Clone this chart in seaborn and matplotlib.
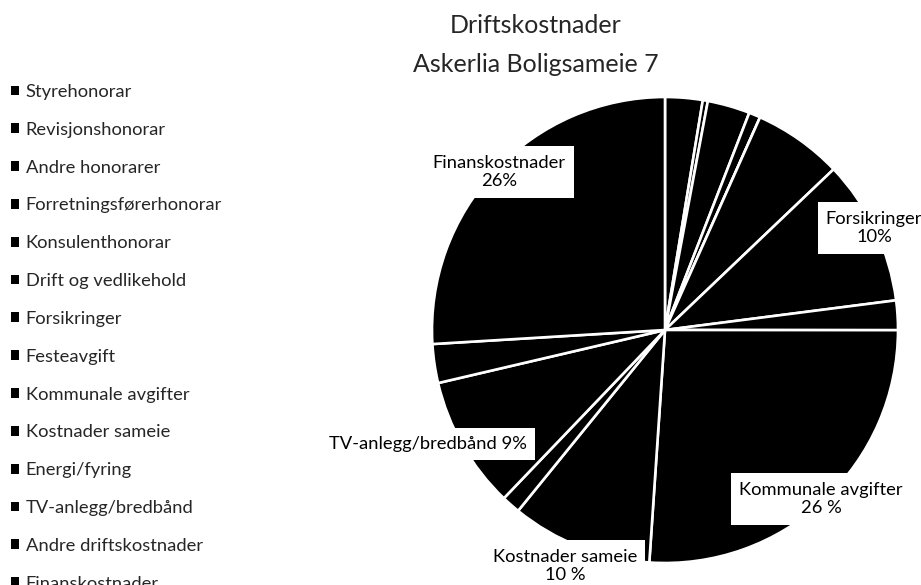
import matplotlib
matplotlib.use("Agg")
import matplotlib.pyplot as plt
import seaborn as sns
from matplotlib.patches import Patch

sns.set_theme(style="white")
plt.rcParams['font.family'] = ['Lato', 'DejaVu Sans']

# ---- data (percent shares) ----
categories = ["Styrehonorar", "Revisjonshonorar", "Andre honorarer",
              "Forretningsførerhonorar", "Konsulenthonorar", "Drift og vedlikehold",
              "Forsikringer", "Festeavgift", "Kommunale avgifter", "Kostnader sameie",
              "Energi/fyring", "TV-anlegg/bredbånd", "Andre driftskostnader",
              "Finanskostnader"]
values = [2.6, 0.35, 2.95, 0.8, 0.0, 6.2, 10.1, 2.05, 26.1, 9.8, 1.3, 9.2, 2.7, 26.0]

labelled = ["Finanskostnader", "Forsikringer", "Kommunale avgifter",
            "Kostnader sameie", "TV-anlegg/bredbånd"]
label_texts = ["Finanskostnader\n26%", "Forsikringer\n10%", "Kommunale avgifter\n26 %",
               "Kostnader sameie\n10 %", "TV-anlegg/bredbånd 9%"]
title_lines = ["Driftskostnader", "Askerlia Boligsameie 7"]

# ---- figure ----
W, H = 921, 585
fig = plt.figure(figsize=(W / 100, H / 100), dpi=100)
cx, cy, r = 665, 330, 233          # pie centre / radius in pixels
ax = fig.add_axes([(cx - r) / W, (H - cy - r) / H, 2 * r / W, 2 * r / H])

colors = ["black"] * len(values)
wedges, _ = ax.pie(values, colors=colors, startangle=90, counterclock=False,
                   wedgeprops=dict(edgecolor="white", linewidth=1.9))
for w in wedges:
    w.set_clip_on(False)
ax.set_xlim(-1, 1)
ax.set_ylim(-1, 1)
ax.set_aspect("equal")
ax.axis("off")

# data labels (positions in pixels of the figure)
label_pos = {"Finanskostnader": (499, 172), "Forsikringer": (874, 228),
             "Kommunale avgifter": (821, 499), "Kostnader sameie": (565, 566),
             "TV-anlegg/bredbånd": (428, 444)}
for cat, txt in zip(labelled, label_texts):
    px, py = label_pos[cat]
    x = (px - cx) / r
    y = (cy - py) / r
    ax.text(x, y, txt, ha="center", va="center", fontsize=13.2, color="black",
            linespacing=1.2,
            bbox=dict(boxstyle="square,pad=0.45", fc="white", ec="none"),
            clip_on=False, zorder=5)

# title
title_x = 536
fig.text(title_x / W, 1 - 33 / H, title_lines[0], ha="center", va="baseline", fontsize=18)
fig.text(title_x / W, 1 - 72 / H, title_lines[1], ha="center", va="baseline", fontsize=18)

# legend
handles = [Patch(facecolor="black", edgecolor="none") for _ in categories]
fig.legend(handles, categories, loc="upper left", bbox_to_anchor=(11 / W, 1 - 84 / H),
           frameon=False, fontsize=13.2, handlelength=0.45, handleheight=0.45,
           handletextpad=0.35, labelspacing=1.19, borderpad=0, borderaxespad=0)

fig.savefig("out.png", dpi=100, facecolor="white")
